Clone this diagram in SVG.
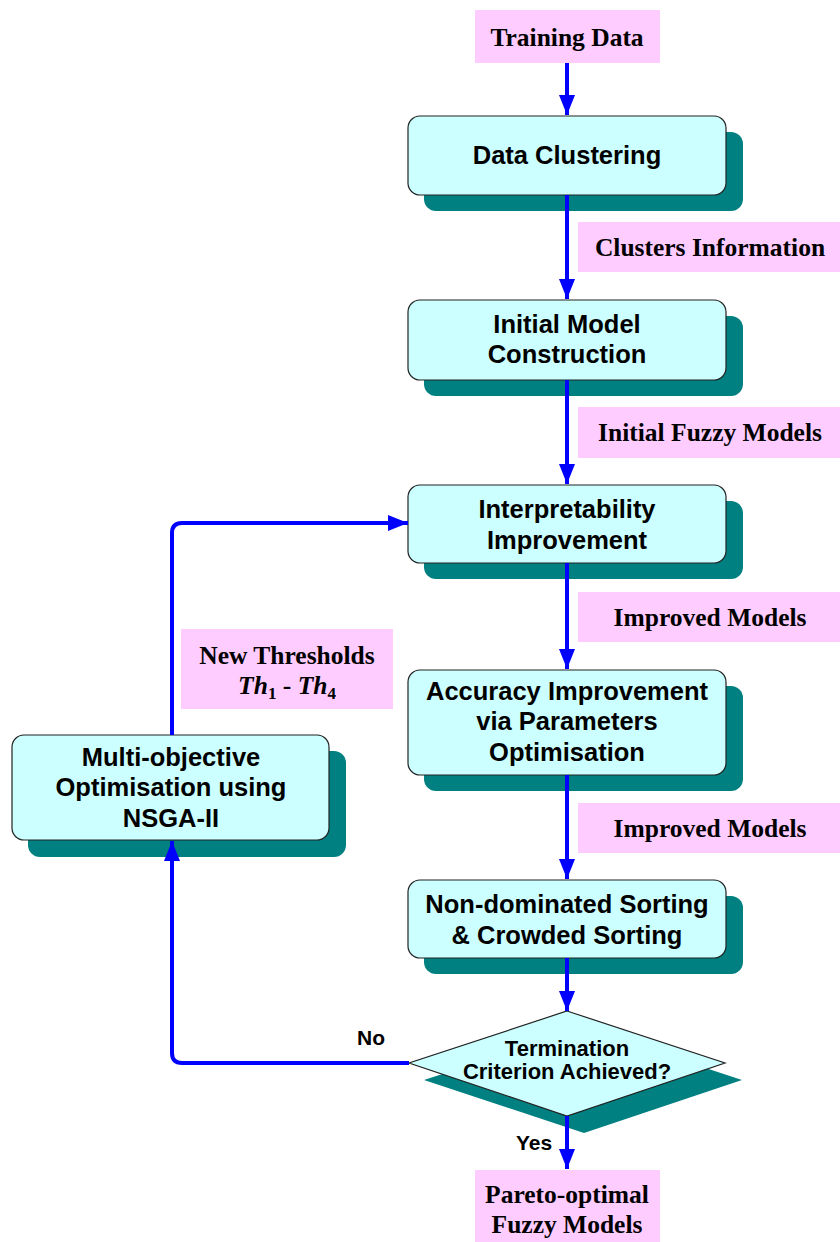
<svg xmlns="http://www.w3.org/2000/svg" width="840" height="1242" viewBox="0 0 840 1242">
<defs>
<style>
.box{fill:#CCFFFF;stroke:#222;stroke-width:1.2}
.sh{fill:#008080}
.pk{fill:#FFCCFF}
.bt{font-family:"Liberation Sans",Arial,sans-serif;font-weight:bold;font-size:25.5px;fill:#000;text-anchor:middle}
.dt{font-family:"Liberation Sans",Arial,sans-serif;font-weight:bold;font-size:22px;fill:#000;text-anchor:middle}
.lt{font-family:"Liberation Sans",Arial,sans-serif;font-weight:bold;font-size:21px;fill:#000;text-anchor:middle}
.pt{font-family:"Liberation Serif","Times New Roman",serif;font-weight:bold;font-size:25.5px;fill:#000;text-anchor:middle}
.cn{fill:none;stroke:#0000FF;stroke-width:4;marker-end:url(#ah)}
</style>
<marker id="ah" viewBox="0 0 20 16" refX="20" refY="8" markerWidth="20" markerHeight="16" markerUnits="userSpaceOnUse" orient="auto">
<path d="M0,0 L20,8 L0,16 z" fill="#0000FF"/>
</marker>
</defs>

<g id="training-data">
<rect class="pk" x="475" y="10" width="185" height="53"/>
<text class="pt" x="567" y="46">Training Data</text>
</g>

<g id="data-clustering">
<rect class="sh" x="424" y="132" width="319" height="79" rx="12"/>
<rect class="box" x="408" y="116" width="318" height="79" rx="12"/>
<text class="bt" x="567" y="164">Data Clustering</text>
</g>

<g id="clusters-info">
<rect class="pk" x="578" y="222" width="262" height="50"/>
<text class="pt" x="710" y="256">Clusters Information</text>
</g>

<g id="initial-model">
<rect class="sh" x="424" y="316" width="319" height="80" rx="12"/>
<rect class="box" x="408" y="300" width="318" height="80" rx="12"/>
<text class="bt" x="567" y="333">Initial Model</text>
<text class="bt" x="567" y="363">Construction</text>
</g>

<g id="initial-fuzzy">
<rect class="pk" x="578" y="407" width="262" height="51"/>
<text class="pt" x="710" y="441">Initial Fuzzy Models</text>
</g>

<g id="interpretability">
<rect class="sh" x="424" y="501" width="319" height="78" rx="12"/>
<rect class="box" x="408" y="485" width="318" height="78" rx="12"/>
<text class="bt" x="567" y="518">Interpretability</text>
<text class="bt" x="567" y="549">Improvement</text>
</g>

<g id="improved-1">
<rect class="pk" x="578" y="592" width="262" height="50"/>
<text class="pt" x="710" y="626">Improved Models</text>
</g>

<g id="accuracy">
<rect class="sh" x="424" y="686" width="319" height="105" rx="12"/>
<rect class="box" x="408" y="670" width="318" height="105" rx="12"/>
<text class="bt" x="567" y="700">Accuracy Improvement</text>
<text class="bt" x="567" y="730">via Parameters</text>
<text class="bt" x="567" y="761">Optimisation</text>
</g>

<g id="improved-2">
<rect class="pk" x="578" y="803" width="262" height="50"/>
<text class="pt" x="710" y="837">Improved Models</text>
</g>

<g id="sorting">
<rect class="sh" x="424" y="896" width="319" height="78" rx="12"/>
<rect class="box" x="408" y="880" width="318" height="78" rx="12"/>
<text class="bt" x="567" y="913">Non-dominated Sorting</text>
<text class="bt" x="567" y="944">&amp; Crowded Sorting</text>
</g>

<g id="termination">
<polygon class="sh" points="584,1028 742,1080 584,1133 424,1080"/>
<polygon class="box" points="567,1011 725,1063 567,1116 409,1063"/>
<text class="dt" x="567" y="1056">Termination</text>
<text class="dt" x="567" y="1079">Criterion Achieved?</text>
</g>

<g id="pareto">
<rect class="pk" x="475" y="1170" width="185" height="72"/>
<text class="pt" x="567" y="1203">Pareto-optimal</text>
<text class="pt" x="567" y="1233">Fuzzy Models</text>
</g>

<g id="multi-objective">
<rect class="sh" x="28" y="751" width="318" height="106" rx="12"/>
<rect class="box" x="12" y="735" width="317" height="105" rx="12"/>
<text class="bt" x="171" y="766">Multi-objective</text>
<text class="bt" x="171" y="796">Optimisation using</text>
<text class="bt" x="171" y="827">NSGA-II</text>
</g>

<g id="new-thresholds">
<rect class="pk" x="181" y="629" width="212" height="80"/>
<text class="pt" x="287" y="664">New Thresholds</text>
<text class="pt" x="287" y="694" font-style="italic">Th<tspan font-size="17px" font-style="normal" dy="5">1</tspan><tspan dy="-5" font-style="normal"> - </tspan>Th<tspan font-size="17px" font-style="normal" dy="5">4</tspan></text>
</g>

<g id="connectors">
<path class="cn" d="M567,63 V115"/>
<path class="cn" d="M567,195 V299"/>
<path class="cn" d="M567,380 V484"/>
<path class="cn" d="M567,563 V669"/>
<path class="cn" d="M567,775 V879"/>
<path class="cn" d="M567,958 V1011"/>
<path class="cn" d="M567,1116 V1169"/>
<path class="cn" d="M409,1063 H182 Q172,1063 172,1053 V841"/>
<path class="cn" d="M172,735 V533 Q172,523 182,523 H408"/>
<text class="lt" x="371" y="1045">No</text>
<text class="lt" x="534" y="1150">Yes</text>
</g>
</svg>
